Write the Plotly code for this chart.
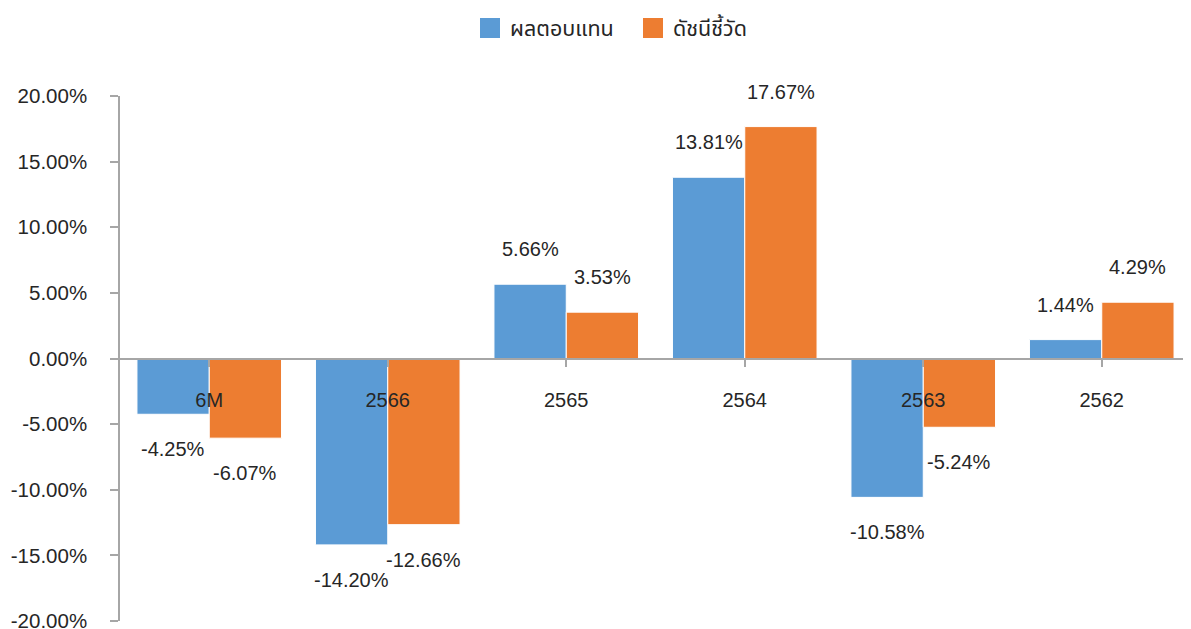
import plotly.graph_objects as go

categories = ["6M", "2566", "2565", "2564", "2563", "2562"]
fund_returns = [-4.25, -14.20, 5.66, 13.81, -10.58, 1.44]
benchmark = [-6.07, -12.66, 3.53, 17.67, -5.24, 4.29]
series_names = ["ผลตอบแทน", "ดัชนีชี้วัด"]
colors = ["#5B9BD5", "#ED7D31"]
y_ticks = [-20, -15, -10, -5, 0, 5, 10, 15, 20]

FONT = "Liberation Sans, Noto Sans Thai, Noto Sans, sans-serif"
TXT = "#262626"
AX = "#A6A6A6"

# the page body has an 8px margin, so the figure is offset by 8px
W, H = 1183, 629
ML, MR, MT, MB = 112, 0, 88, 16
BARGAP = 0.19

fig = go.Figure()
for name, vals, col in zip(series_names, [fund_returns, benchmark], colors):
    fig.add_trace(go.Bar(
        x=list(range(len(categories))), y=vals, name=name,
        marker=dict(color=col, line=dict(color="white", width=1)),
        hoverinfo="skip", showlegend=False,
    ))
for name, col in zip(series_names, colors):
    fig.add_trace(go.Scatter(
        x=[None], y=[None], mode="markers", name=name,
        marker=dict(symbol="square", size=16, color=col, line=dict(color=col, width=4)),
        showlegend=True,
    ))

plot_w = W - ML - MR
cat_w = plot_w / len(categories)
bar_w = cat_w * (1 - BARGAP) / 2
annotations = []
for si, vals in enumerate([fund_returns, benchmark]):
    xs = (-0.5 + si) * bar_w
    for i, v in enumerate(vals):
        annotations.append(dict(
            x=i, y=v, xref="x", yref="y", text=f"{v:.2f}%",
            showarrow=False, xshift=xs, yshift=35 if v >= 0 else -35,
            font=dict(family=FONT, size=20, color=TXT),
        ))

fig.update_layout(
    width=W, height=H,
    margin=dict(l=ML, r=MR, t=MT, b=MB, autoexpand=False),
    plot_bgcolor="white", paper_bgcolor="white",
    barmode="group", bargap=BARGAP, bargroupgap=0,
    font=dict(family=FONT, size=20, color=TXT),
    showlegend=True,
    legend=dict(orientation="h", x=0.479, xanchor="center", y=1 - 20 / H, yref="container",
                yanchor="middle", font=dict(family=FONT, size=21.5, color=TXT),
                itemwidth=30, traceorder="normal", entrywidth=118),
    annotations=annotations,
    xaxis=dict(
        tickmode="array", tickvals=list(range(len(categories))), ticktext=categories,
        range=[-0.5, len(categories) - 0.5],
        anchor="free", position=0.5, automargin=False,
        showline=True, linecolor=AX, linewidth=1.5,
        ticks="outside", tickson="boundaries", ticklen=8, tickcolor=AX, tickwidth=1.5,
        showgrid=False, zeroline=False, ticklabelstandoff=16,
        tickfont=dict(family=FONT, size=20, color=TXT),
    ),
    yaxis=dict(
        range=[-20, 20], tickmode="array", tickvals=y_ticks,
        ticktext=[f"{t:.2f}%" for t in y_ticks], automargin=False,
        showline=True, linecolor=AX, linewidth=1.5,
        ticks="outside", ticklen=8, tickcolor=AX, tickwidth=1.5,
        showgrid=False, zeroline=False, ticklabelstandoff=19,
        ticklabeloverflow="allow",
        tickfont=dict(family=FONT, size=20.5, color=TXT),
    ),
)

fig.write_html("out.html")
